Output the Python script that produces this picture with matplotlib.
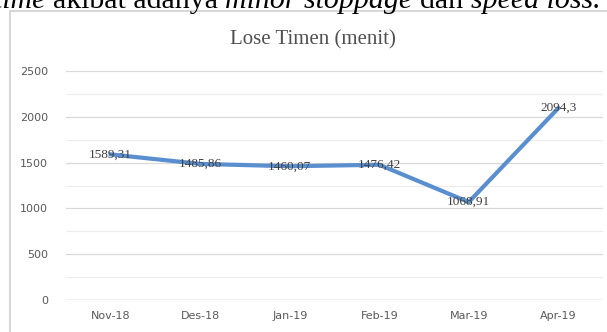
import matplotlib.pyplot as plt
from matplotlib.patches import Rectangle
from matplotlib.ticker import MultipleLocator

months = ["Nov-18", "Des-18", "Jan-19", "Feb-19", "Mar-19", "Apr-19"]
lose_time = [1589.31, 1485.86, 1460.07, 1476.42, 1068.91, 2094.3]
value_labels = ["1589,31", "1485,86", "1460,07", "1476,42", "1068,91", "2094,3"]
yticks = [0, 500, 1000, 1500, 2000, 2500]

W, H = 607, 332
fig = plt.figure(figsize=(W / 100, H / 100), dpi=100)
fig.patch.set_facecolor("white")

# chart frame (excel style border)
fig.patches.append(Rectangle((10 / W, -0.05), 1.2, 1 - 11 / H + 0.05,
                             transform=fig.transFigure, fill=False,
                             edgecolor="#d0d0d0", lw=1.2))

# sentence cut off at the top of the picture
pieces = [("time ", "italic"), ("akibat adanya ", "normal"),
          ("minor stoppage ", "italic"), ("dan ", "normal"),
          ("speed loss.", "italic")]
fig.canvas.draw()
renderer = fig.canvas.get_renderer()
x = -6
for txt, style in pieces:
    t = fig.text(x / W, 1 - 8 / H, txt, fontsize=21.5, family="Liberation Serif",
                 style=style, va="baseline", ha="left", color="black")
    bb = t.get_window_extent(renderer)
    x += bb.width

ax = fig.add_axes([66 / W, 32 / H, 537 / W, (300 - 71) / H])
ax.plot(range(len(months)), lose_time, color="#5a8fcf", lw=3,
        solid_joinstyle="round", zorder=3)
for i, (v, lab) in enumerate(zip(lose_time, value_labels)):
    ax.text(i, v, lab, ha="center", va="center", fontsize=9.5,
            family="Liberation Serif", color="#404040", zorder=4)

ax.set_xlim(-0.5, 5.5)
ax.set_ylim(0, 2500)
ax.set_yticks(yticks)
ax.yaxis.set_minor_locator(MultipleLocator(250))
ax.set_xticks(range(len(months)))
ax.set_xticklabels(months)
ax.grid(axis="y", which="major", color="#d9d9d9", lw=0.9)
ax.grid(axis="y", which="minor", color="#ececec", lw=0.8)
ax.set_axisbelow(True)
for s in ax.spines.values():
    s.set_visible(False)
ax.axhline(0, color="#d0d0d0", lw=1)
ax.tick_params(axis="both", which="both", length=0, labelsize=8,
               labelcolor="#595959")
ax.tick_params(axis="y", pad=13)
ax.tick_params(axis="x", pad=8)

fig.text(313 / W, 1 - 40 / H, "Lose Timen (menit)", fontsize=15,
         family="Liberation Serif", color="#505050", ha="center", va="center")

fig.savefig("out.png", dpi=100)
